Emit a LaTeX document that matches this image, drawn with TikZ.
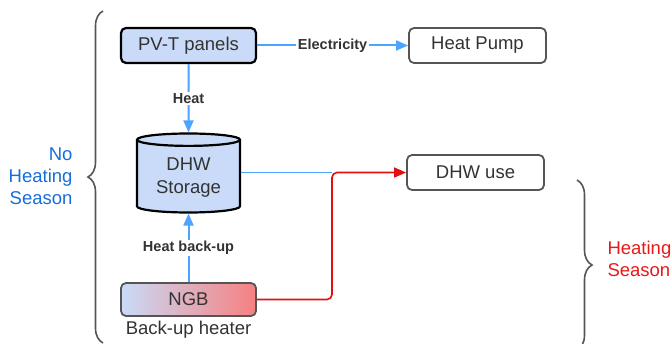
\documentclass[tikz,border=0pt]{standalone}
\usepackage{fontspec}
\setmainfont{Liberation Sans}
\usepackage{xcolor}
\usepackage{tikz}
\usetikzlibrary{shapes.geometric, arrows.meta, positioning, calc, decorations.pathreplacing}
\definecolor{panelblue}{RGB}{201, 219, 248}
\definecolor{ngbred}{RGB}{246, 128, 128}
\definecolor{flowblue}{RGB}{77, 163, 255}
\definecolor{flowred}{RGB}{224, 16, 16}
\definecolor{seasonblue}{RGB}{20, 110, 220}
\definecolor{seasonred}{RGB}{232, 24, 24}
\definecolor{edgegray}{RGB}{85, 85, 85}
\definecolor{inkgray}{RGB}{51, 51, 51}

\begin{document}
\begin{tikzpicture}[
    x=1pt, y=1pt,
    font=\fontsize{18.5}{22}\selectfont, text=inkgray,
    panelBox/.style={draw=black, fill=panelblue, rounded corners=5pt, line width=2.2pt, minimum width=135pt, minimum height=35pt, inner sep=2pt},
    plainBox/.style={draw=edgegray, fill=white, rounded corners=5pt, line width=1.8pt, minimum width=137pt, minimum height=35pt, inner sep=2pt},
    ngbBox/.style={draw=edgegray, left color=panelblue, right color=ngbred, rounded corners=5pt, line width=1.8pt, minimum width=135pt, minimum height=33pt, inner sep=2pt},
    tankShape/.style={shape=cylinder, shape border rotate=90, aspect=0.18, draw=black, fill=panelblue, line width=2.2pt, minimum width=103pt, minimum height=79pt, align=center, inner sep=2pt, font=\fontsize{18.5}{23.5}\selectfont},
    flowArrow/.style={draw=flowblue, line width=2pt, -{Triangle[length=12pt, width=10pt]}},
    flowLine/.style={draw=flowblue, line width=1.6pt},
    backupArrow/.style={draw=flowred, line width=1.6pt, rounded corners=5pt, -{Triangle[length=12pt, width=10pt]}},
    flowLabel/.style={fill=white, font=\fontsize{14.5}{16}\selectfont\bfseries, inner sep=1.5pt},
    seasonBrace/.style={draw=edgegray, line width=1.6pt, decorate, decoration={brace, amplitude=15pt}}
]
\useasboundingbox (0,0) rectangle (671,343);

% Summer side
\node[panelBox] (pvtPanels) at (188.5, 297.5) {PV-T panels};
\node[plainBox, right=151pt of pvtPanels] (heatPump) {Heat Pump};
\node[tankShape] (dhwStorage) at (188.5, 165.5) {DHW\\Storage};
\node[plainBox] (dhwUse) at (475.5, 170.5) {DHW use};
\coordinate (mixPoint) at (332, 170.5);

\draw[flowArrow] (pvtPanels) -- node[flowLabel] {Electricity} (heatPump);
\draw[flowArrow] (pvtPanels) -- node[flowLabel] {Heat} (dhwStorage);
\draw[flowLine] (dhwStorage.east |- mixPoint) -- (mixPoint);

% Back-up heater
\node[ngbBox] (ngbHeater) at (188.5, 43.5) {NGB};
\node (ngbCaption) at (188.5, 13) {Back-up heater};

\draw[flowArrow] (ngbHeater) -- node[flowLabel] {Heat back-up} (dhwStorage);
\draw[backupArrow] (ngbHeater.east) -| (mixPoint) -- (dhwUse.west);

% Seasons
\draw[seasonBrace] (103, 0) -- (103, 332);
\node[anchor=east, align=right, text=seasonblue] (noHeating) at (76, 167) {No\\Heating\\Season};
\draw[seasonBrace] (577, 163) -- (577, -7);
\node[anchor=west, align=left, text=seasonred] (heatingSeason) at (604, 84) {Heating\\Season};

\end{tikzpicture}
\end{document}
